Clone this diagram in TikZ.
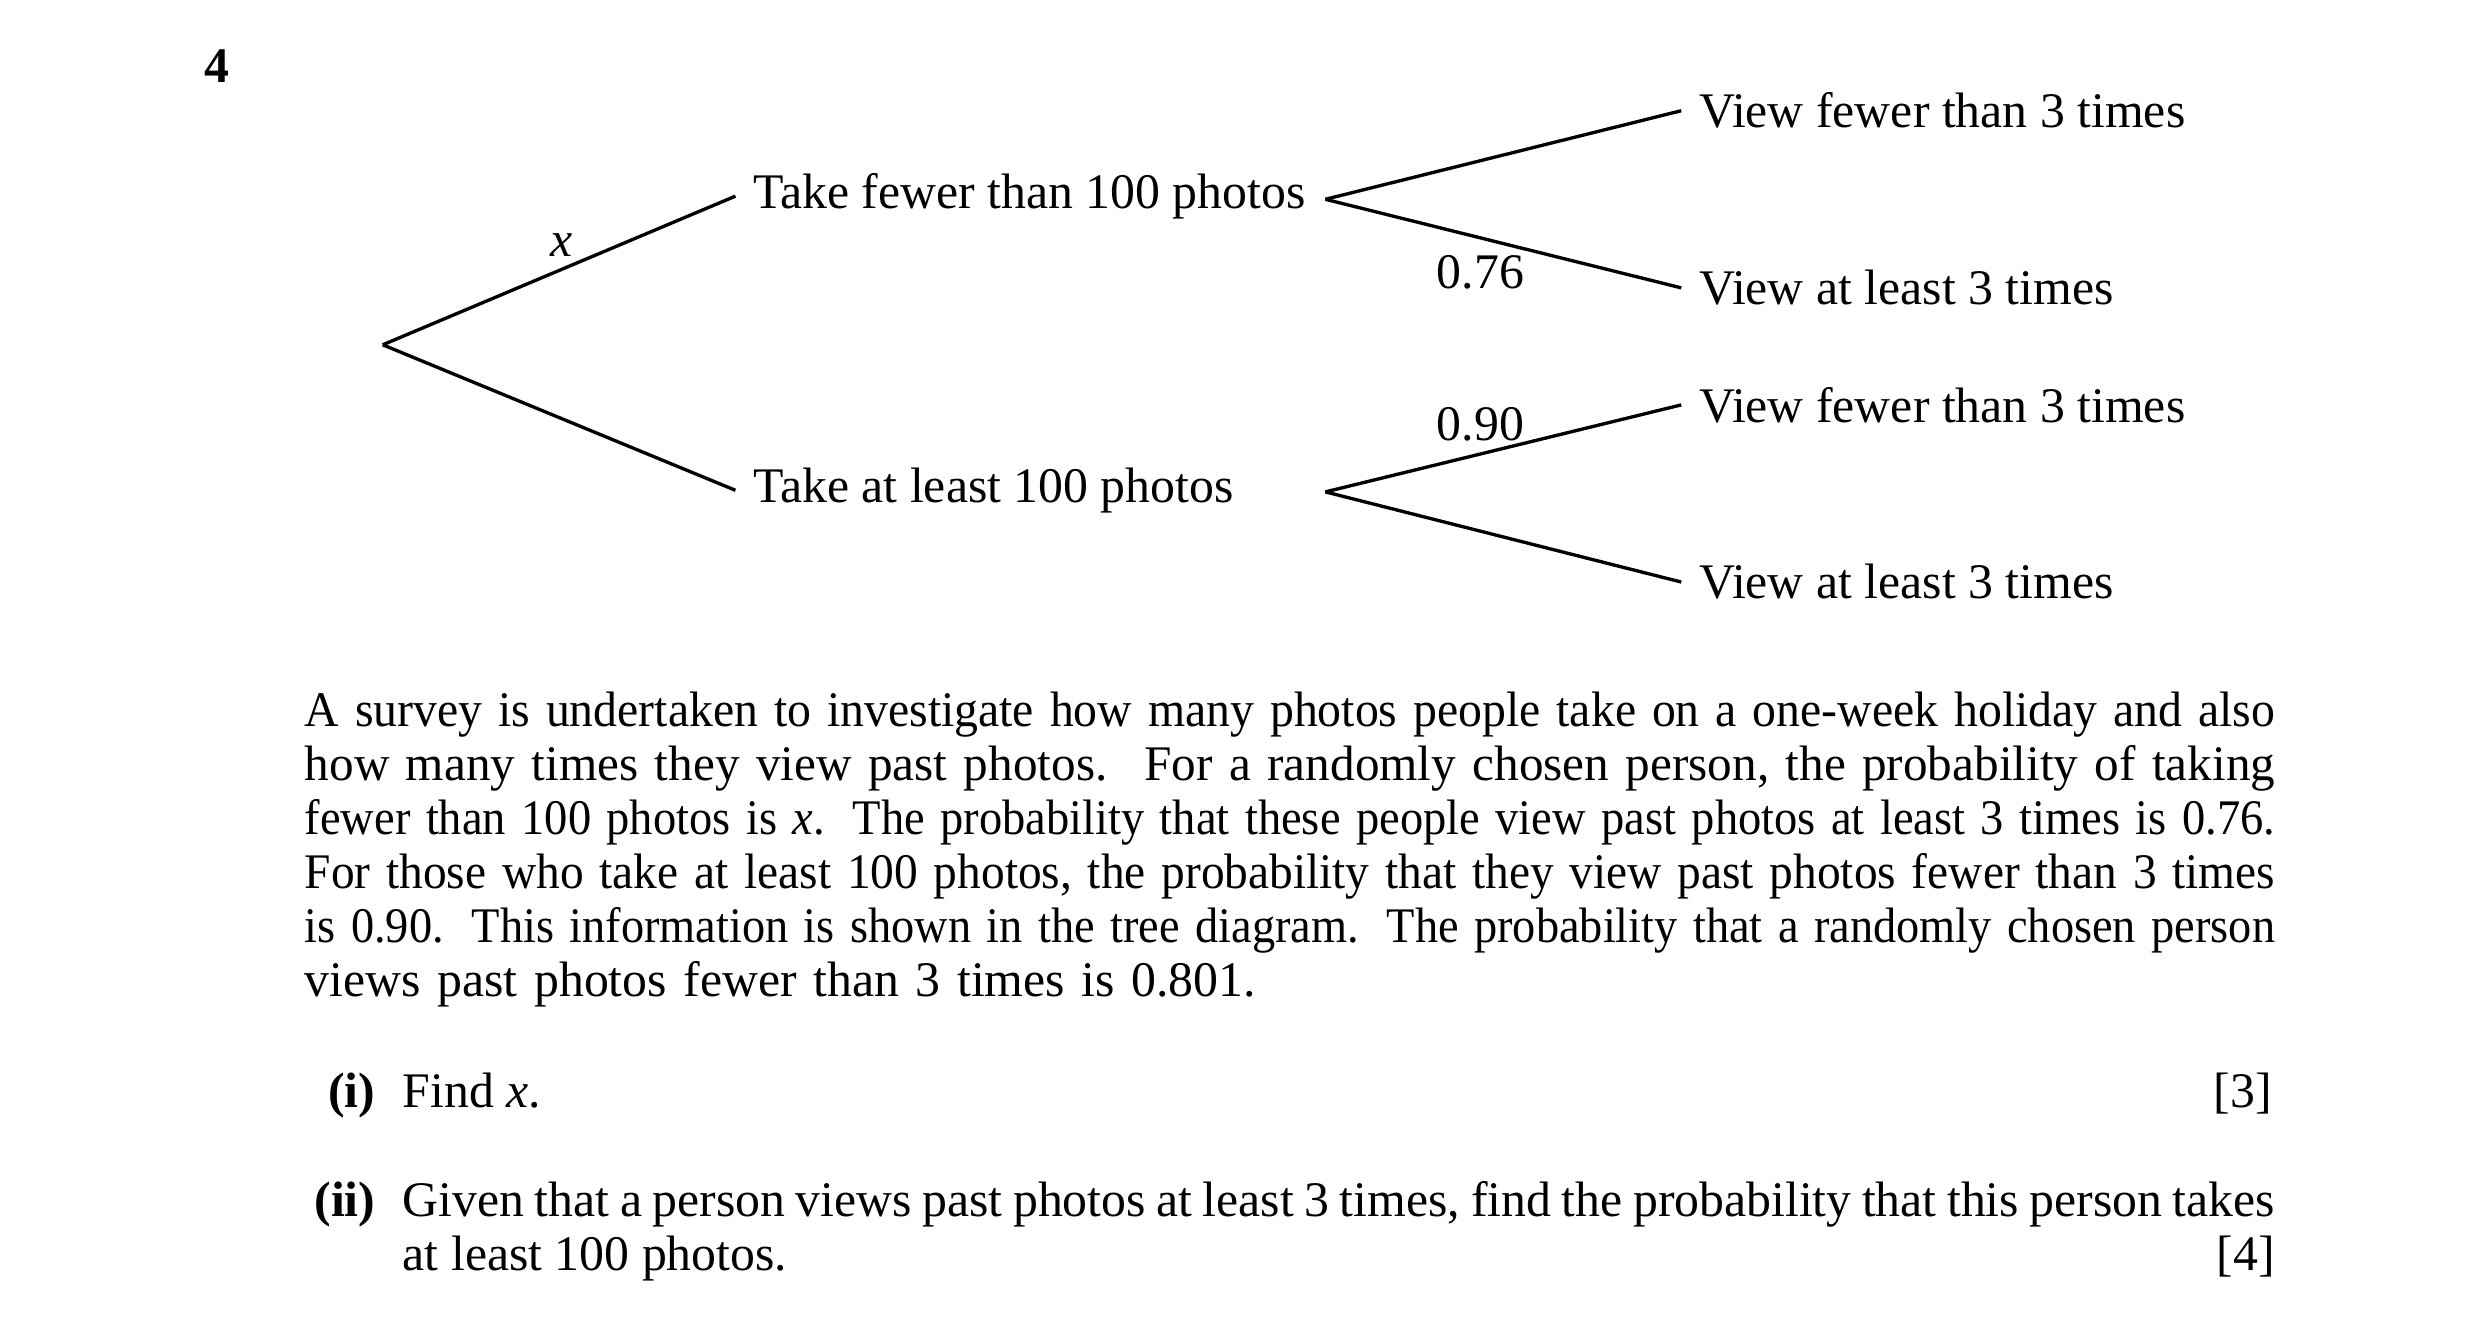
\documentclass[tikz,border=0pt]{standalone}
\usepackage{fontspec}
\setmainfont{Liberation Serif}
\newcommand{\fitline}[1]{\resizebox{12.45cm}{\height}{#1}}
\begin{document}
\begin{tikzpicture}[x=0.01cm,y=-0.01cm,
    every node/.style={font=\fontsize{8.95}{9.7}\selectfont},
    outcome/.style={anchor=west,inner sep=3pt},
    branch/.style={semithick}]
    \useasboundingbox (0,0) rectangle (1568,842);
    \node[font=\bfseries\fontsize{8.95}{9.7}\selectfont] (qnum) at (137,42) {4};
    % Tree
    \coordinate (root) at (242,218);
    \node[outcome] (few) at (465,124) {Take fewer than 100 photos};
    \node[outcome] (many) at (465,310) {Take at least 100 photos};
    \coordinate (fewend) at (838,126);
    \coordinate (manyend) at (838,311);
    \node[outcome] (fewA) at (1063,70) {View fewer than 3 times};
    \node[outcome] (fewB) at (1063,182) {View at least 3 times};
    \node[outcome] (manyA) at (1063,256) {View fewer than 3 times};
    \node[outcome] (manyB) at (1063,368) {View at least 3 times};
    \draw[branch] (root) -- (few.west);
    \draw[branch] (root) -- (many.west);
    \draw[branch] (fewend) -- (fewA.west);
    \draw[branch] (fewend) -- (fewB.west);
    \draw[branch] (manyend) -- (manyA.west);
    \draw[branch] (manyend) -- (manyB.west);
    % Probabilities
    \node (px) at (355,155) {\textit{x}};
    \node (p76) at (936,172) {0.76};
    \node (p90) at (936,268) {0.90};
    % Question text
    \node[anchor=north west,inner sep=0pt,text width=12.45cm,align=left] (stem) at (192,437)
    {\fitline{A survey is undertaken to investigate how many photos people take on a one-week holiday and also}\\
     \fitline{how many times they view past photos. \hspace{0.25em}For a randomly chosen person, the probability of taking}\\
     \fitline{fewer than 100 photos is \textit{x}. \hspace{0.1em}The probability that these people view past photos at least 3 times is 0.76.}\\
     \fitline{For those who take at least 100 photos, the probability that they view past photos fewer than 3 times}\\
     \fitline{is 0.90. \hspace{0.1em}This information is shown in the tree diagram. \hspace{0.1em}The probability that a randomly chosen person}\\
     views past photos fewer than 3 times is 0.801.};
    \node[anchor=base east,inner sep=0pt] (ia) at (238,700) {\textbf{(i)}};
    \node[anchor=base west,inner sep=0pt] (ib) at (254,700) {Find \textit{x}.};
    \node[anchor=base east,inner sep=0pt] (im) at (1437,700) {[3]};
    \node[anchor=base east,inner sep=0pt] (iia) at (238,769) {\textbf{(ii)}};
    \node[anchor=north west,inner sep=0pt,text width=11.83cm,align=justify] (iib) at (254,746)
    {Given that a person views past photos at least 3 times, find the probability that this person takes at least 100 photos.\hfill[4]};
\end{tikzpicture}
\end{document}
